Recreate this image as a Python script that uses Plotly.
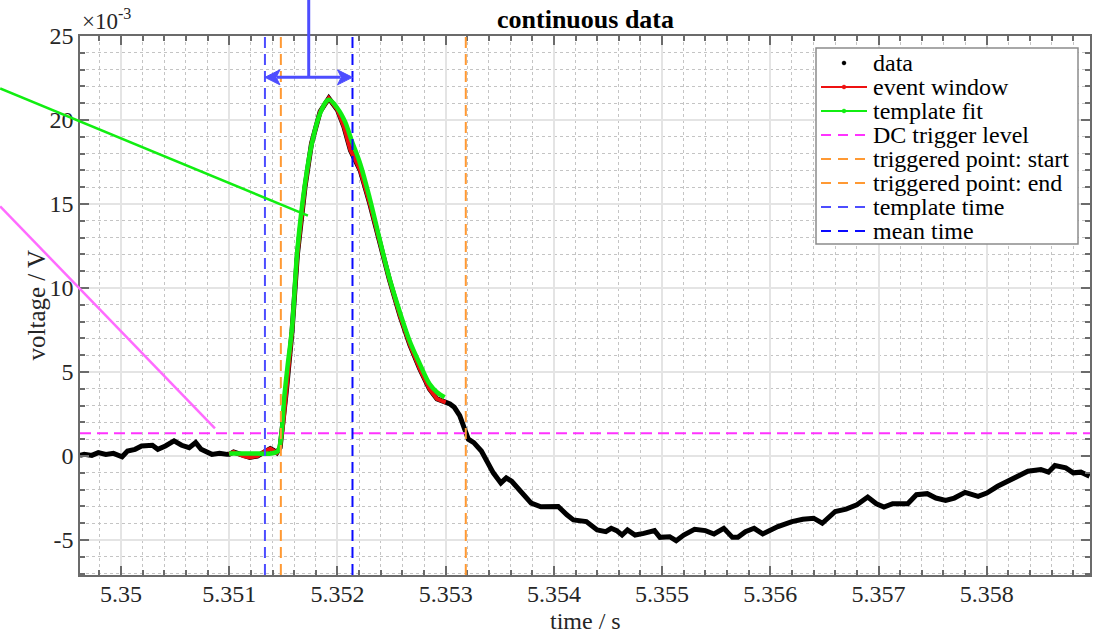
import plotly.graph_objects as go

# ---------------- data (time in s, voltage in 1e-3 V) ----------------
DATA_T_LEFT = [5.34962, 5.34966, 5.34973, 5.34979, 5.34986, 5.34993, 5.35001, 5.35006,
               5.35013, 5.35019, 5.35029, 5.35034, 5.35041, 5.35049, 5.35056, 5.35063,
               5.35069, 5.35074, 5.35084, 5.35091, 5.35098]
DATA_V_LEFT = [0.04, 0.10, 0.04, 0.20, 0.10, 0.16, -0.04, 0.30,
               0.40, 0.60, 0.64, 0.40, 0.60, 0.90, 0.64, 0.50,
               0.80, 0.40, 0.10, 0.16, 0.10]

EVENT_T = [5.35100, 5.35104, 5.35113, 5.35119, 5.35126, 5.35133, 5.35138, 5.35141,
           5.35144, 5.35147, 5.35150, 5.35153, 5.35158, 5.35163, 5.35170, 5.35176,
           5.35184, 5.35192, 5.35200, 5.35206, 5.35212, 5.35216, 5.35221, 5.35230,
           5.35239, 5.35248, 5.35258, 5.35267, 5.35276, 5.35285, 5.35292, 5.35300]
EVENT_V = [0.10, 0.24, 0.00, -0.08, 0.00, 0.30, 0.44, 0.34,
           0.20, 0.50, 2.0, 4.0, 7.4, 12.0, 16.0, 18.6,
           20.5, 21.3, 20.6, 19.6, 18.2, 17.7, 17.0, 15.0,
           12.7, 10.5, 8.3, 6.6, 5.2, 4.0, 3.4, 3.2]

DATA_T_RIGHT = [5.35304, 5.35308, 5.35313, 5.35321, 5.35326, 5.35333, 5.35340, 5.35344,
                5.35351, 5.35356, 5.35361, 5.35369, 5.35379, 5.35388, 5.35404, 5.35412,
                5.35418, 5.35430, 5.35440, 5.35448, 5.35453, 5.35458, 5.35463, 5.35468,
                5.35475, 5.35483, 5.35493, 5.35498, 5.35507, 5.35513, 5.35520, 5.35530,
                5.35540, 5.35548, 5.35557, 5.35565, 5.35570, 5.35577, 5.35585, 5.35593,
                5.35607, 5.35620, 5.35630, 5.35640, 5.35648, 5.35660, 5.35670, 5.35680,
                5.35690, 5.35698, 5.35705, 5.35713, 5.35727, 5.35735, 5.35745, 5.35753,
                5.35762, 5.35770, 5.35780, 5.35792, 5.35800, 5.35810, 5.35820, 5.35830,
                5.35838, 5.35850, 5.35857, 5.35863, 5.35873, 5.35880, 5.35887, 5.35895]
DATA_V_RIGHT = [3.1, 2.9, 2.4, 1.0, 0.8, 0.3, -0.5, -1.0,
                -1.6, -1.3, -1.5, -2.1, -2.8, -3.02, -3.0, -3.5,
                -3.8, -3.9, -4.4, -4.5, -4.3, -4.44, -4.7, -4.4,
                -4.7, -4.6, -4.44, -4.84, -4.8, -5.04, -4.7, -4.36,
                -4.44, -4.64, -4.3, -4.84, -4.84, -4.5, -4.3, -4.64,
                -4.2, -3.9, -3.76, -3.7, -4.0, -3.3, -3.16, -2.9,
                -2.44, -2.84, -3.04, -2.84, -2.84, -2.3, -2.24, -2.5,
                -2.64, -2.5, -2.16, -2.4, -2.2, -1.8, -1.5, -1.2,
                -0.9, -0.8, -0.96, -0.56, -0.7, -1.0, -0.96, -1.2]

FIT_T = [5.35100, 5.35120, 5.35140, 5.35145, 5.35148, 5.35151, 5.35154, 5.35158,
         5.35163, 5.35170, 5.35176, 5.35184, 5.35192, 5.35200, 5.35207, 5.35213,
         5.35221, 5.35230, 5.35239, 5.35248, 5.35258, 5.35267, 5.35276, 5.35285,
         5.35292, 5.35299]
FIT_V = [0.15, 0.15, 0.17, 0.30, 1.2, 3.6, 5.4, 7.6,
         12.3, 16.2, 18.5, 20.4, 21.2, 20.7, 19.9, 18.8,
         17.4, 15.3, 12.9, 10.6, 8.5, 6.8, 5.5, 4.3,
         3.8, 3.5]

DC_TRIGGER_LEVEL = 1.35
TRIG_START = 5.351477
TRIG_END = 5.353186
TEMPLATE_TIME = 5.351330
MEAN_TIME = 5.352139
ARROW_LEVEL = 22.54

# stray annotation segments (data units)
GREEN_SEG_T = [5.348883, 5.351727]
GREEN_SEG_V = [21.88, 14.31]
MAGENTA_SEG_T = [5.348883, 5.350868]
MAGENTA_SEG_V = [14.86, 1.64]

X_TICKS = [5.350, 5.351, 5.352, 5.353, 5.354, 5.355, 5.356, 5.357, 5.358]
X_TICK_TEXT = ["5.35", "5.351", "5.352", "5.353", "5.354", "5.355", "5.356", "5.357", "5.358"]
Y_TICKS = [-5, 0, 5, 10, 15, 20, 25]
Y_TICK_TEXT = ["-5", "0", "5", "10", "15", "20", "25"]

LEGEND_LABELS = ["data", "event window", "template fit", "DC trigger level",
                 "triggered point: start", "triggered point: end", "template time", "mean time"]

X_RANGE = [5.349621, 5.358954]
Y_RANGE = [-7.08, 25.0]

# ---------------- styles ----------------
FONT = "Liberation Serif"
C_BLACK = "#000000"
C_RED = "#ee1111"
C_GREEN = "#11ee11"
C_MAGENTA = "#ff33ff"
C_MAGENTA_LIGHT = "#ff6bff"
C_ORANGE = "#ff9933"
C_BLUE_LIGHT = "#4d4dff"
C_BLUE = "#0a0aff"
AXIS_C = "#6b6b6b"
TEXT_C = "#262626"

W, H = 1106, 633
ML, MR, MT, MB = 80, 16, 36, 58
PW, PH = W - ML - MR, H - MT - MB


def xp(t):
    return (t - X_RANGE[0]) / (X_RANGE[1] - X_RANGE[0])


def yp(v):
    return (v - Y_RANGE[0]) / (Y_RANGE[1] - Y_RANGE[0])


def pxp(px):  # pixel x -> paper
    return (px - ML) / PW


def pyp(py):  # pixel y (from top) -> paper
    return (H - MB - py) / PH


fig = go.Figure()

data_t = DATA_T_LEFT + EVENT_T + DATA_T_RIGHT
data_v = DATA_V_LEFT + EVENT_V + DATA_V_RIGHT

fig.add_trace(go.Scatter(x=data_t, y=data_v, mode="lines", name="data",
                         line=dict(color=C_BLACK, width=5), showlegend=False))
fig.add_trace(go.Scatter(x=EVENT_T, y=EVENT_V, mode="lines", name="event window",
                         line=dict(color=C_RED, width=4), showlegend=False))
fig.add_trace(go.Scatter(x=FIT_T, y=FIT_V, mode="lines", name="template fit",
                         line=dict(color=C_GREEN, width=4.5, shape="spline"), showlegend=False))

shapes = []
# DC trigger level
shapes.append(dict(type="line", xref="paper", yref="y", x0=0, x1=1,
                   y0=DC_TRIGGER_LEVEL, y1=DC_TRIGGER_LEVEL,
                   line=dict(color=C_MAGENTA, width=2, dash="11px,6px")))
# vertical markers
for xv, col in [(TRIG_START, C_ORANGE), (TRIG_END, C_ORANGE),
                (TEMPLATE_TIME, C_BLUE_LIGHT), (MEAN_TIME, C_BLUE)]:
    shapes.append(dict(type="line", xref="x", yref="paper", x0=xv, x1=xv, y0=0, y1=1,
                       line=dict(color=col, width=2, dash="11px,6px")))
# stray segments drawn outside axes
shapes.append(dict(type="line", xref="paper", yref="paper",
                   x0=xp(GREEN_SEG_T[0]), y0=yp(GREEN_SEG_V[0]),
                   x1=xp(GREEN_SEG_T[1]), y1=yp(GREEN_SEG_V[1]),
                   line=dict(color=C_GREEN, width=2.5), layer="above"))
shapes.append(dict(type="line", xref="paper", yref="paper",
                   x0=xp(MAGENTA_SEG_T[0]), y0=yp(MAGENTA_SEG_V[0]),
                   x1=xp(MAGENTA_SEG_T[1]), y1=yp(MAGENTA_SEG_V[1]),
                   line=dict(color=C_MAGENTA_LIGHT, width=2.5), layer="above"))

# double arrow between template time and mean time, plus vertical stem
mid_t = (TEMPLATE_TIME + MEAN_TIME) / 2
ya = yp(ARROW_LEVEL)
xa0, xa1 = xp(TEMPLATE_TIME), xp(MEAN_TIME)
hl, hw = 15 / PW, 7.5 / PH  # arrow head length / half-width in paper units
shapes.append(dict(type="line", xref="paper", yref="paper",
                   x0=xp(mid_t), x1=xp(mid_t), y0=ya, y1=1.1,
                   line=dict(color=C_BLUE_LIGHT, width=3), layer="above"))
shapes.append(dict(type="line", xref="paper", yref="paper",
                   x0=xa0 + hl * 0.8, x1=xa1 - hl * 0.8, y0=ya, y1=ya,
                   line=dict(color=C_BLUE_LIGHT, width=3), layer="above"))
shapes.append(dict(type="path", xref="paper", yref="paper",
                   path=f"M {xa0} {ya} L {xa0 + hl} {ya + hw} L {xa0 + hl * 0.75} {ya} L {xa0 + hl} {ya - hw} Z",
                   fillcolor=C_BLUE_LIGHT, line=dict(color=C_BLUE_LIGHT, width=1), layer="above"))
shapes.append(dict(type="path", xref="paper", yref="paper",
                   path=f"M {xa1} {ya} L {xa1 - hl} {ya + hw} L {xa1 - hl * 0.75} {ya} L {xa1 - hl} {ya - hw} Z",
                   fillcolor=C_BLUE_LIGHT, line=dict(color=C_BLUE_LIGHT, width=1), layer="above"))

# ---- manual legend ----
LEG_L, LEG_R, LEG_T, LEG_B = 816, 1078, 48, 244
ROW0, ROWH = 63, 24.0
shapes.append(dict(type="rect", xref="paper", yref="paper",
                   x0=pxp(LEG_L), x1=pxp(LEG_R), y0=pyp(LEG_B), y1=pyp(LEG_T),
                   line=dict(color="#8c8c8c", width=1.5), fillcolor="white", layer="above"))
leg_styles = [
    ("dot", C_BLACK),
    ("linedot", C_RED),
    ("linedot", C_GREEN),
    ("dash", C_MAGENTA),
    ("dash", C_ORANGE),
    ("dash", C_ORANGE),
    ("dash", C_BLUE_LIGHT),
    ("dash", C_BLUE),
]
annotations = []
for i, (label, (kind, col)) in enumerate(zip(LEGEND_LABELS, leg_styles)):
    yy = ROW0 + i * ROWH
    x0, x1 = 821, 867
    xc = (x0 + x1) / 2
    if kind in ("linedot", "dash"):
        shapes.append(dict(type="line", xref="paper", yref="paper",
                           x0=pxp(x0), x1=pxp(x1), y0=pyp(yy), y1=pyp(yy),
                           line=dict(color=col, width=2, dash="10px,7px" if kind == "dash" else "solid"),
                           layer="above"))
    if kind in ("linedot", "dot"):
        r = 1.8
        shapes.append(dict(type="circle", xref="paper", yref="paper",
                           x0=pxp(xc - r), x1=pxp(xc + r), y0=pyp(yy + r), y1=pyp(yy - r),
                           line=dict(color=col, width=1), fillcolor=col, layer="above"))
    annotations.append(dict(xref="paper", yref="paper", x=pxp(871), y=pyp(yy),
                            xanchor="left", yanchor="middle", text=label, showarrow=False,
                            font=dict(family=FONT, size=24, color="#000000")))

# exponent label
annotations.append(dict(xref="paper", yref="paper", x=0, y=1, xanchor="left", yanchor="bottom",
                        xshift=0, yshift=0, text="×10<sup>-3</sup>", showarrow=False,
                        font=dict(family=FONT, size=23, color=TEXT_C)))
# axis titles
annotations.append(dict(xref="paper", yref="paper", x=0.5, y=pyp(621), xanchor="center",
                        yanchor="middle", text="time / s", showarrow=False,
                        font=dict(family=FONT, size=24, color=TEXT_C)))
annotations.append(dict(xref="paper", yref="paper", x=pxp(36), y=0.5, xanchor="center",
                        yanchor="middle", text="voltage / V", showarrow=False, textangle=-90,
                        font=dict(family=FONT, size=25, color=TEXT_C)))
# title
annotations.append(dict(xref="paper", yref="paper", x=0.5, y=pyp(19), xanchor="center",
                        yanchor="middle", text="<b>continuous data</b>", showarrow=False,
                        font=dict(family=FONT, size=26, color="#000000")))

axis_common = dict(
    showline=True, linecolor=AXIS_C, linewidth=1.5, mirror="ticks",
    ticks="inside", ticklen=9, tickwidth=1.5, tickcolor=AXIS_C,
    showgrid=True, gridcolor="#e4e4e4", gridwidth=1.5, zeroline=False,
    tickfont=dict(family=FONT, size=24, color=TEXT_C), automargin=False,
)

fig.update_layout(
    width=W, height=H,
    margin=dict(l=ML, r=MR, t=MT, b=MB, autoexpand=False),
    plot_bgcolor="white", paper_bgcolor="white",
    font=dict(family=FONT, color=TEXT_C),
    xaxis=dict(range=X_RANGE, tickmode="array", tickvals=X_TICKS, ticktext=X_TICK_TEXT,
               ticklabelstandoff=-4,
               minor=dict(tick0=5.35, dtick=0.0002, ticks="inside", ticklen=5, tickcolor=AXIS_C,
                          showgrid=True, griddash="dot", gridcolor="#c4c4c4", gridwidth=1),
               **axis_common),
    yaxis=dict(range=Y_RANGE, tickmode="array", tickvals=Y_TICKS, ticktext=Y_TICK_TEXT,
               minor=dict(tick0=0, dtick=1, ticks="inside", ticklen=5, tickcolor=AXIS_C,
                          showgrid=True, griddash="dot", gridcolor="#c4c4c4", gridwidth=1),
               **axis_common),
    shapes=shapes,
    annotations=annotations,
    showlegend=False,
)

fig.write_html("out.html", config={"displayModeBar": False},
               post_script="document.body.style.margin='0px';document.body.style.padding='0px';"
                           "document.body.style.overflow='hidden';")
